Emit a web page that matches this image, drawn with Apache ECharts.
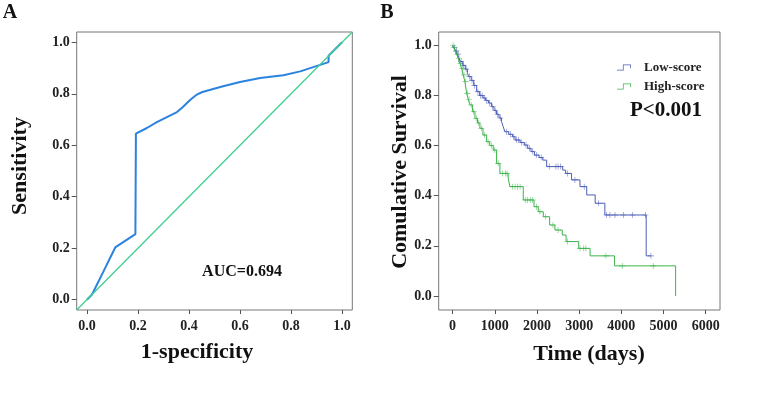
<!DOCTYPE html>
<html>
<head>
<meta charset="utf-8">
<script src="https://cdn.jsdelivr.net/npm/echarts@6/dist/echarts.min.js"></script>
<style>
  html, body { margin: 0; padding: 0; background: #fff; }
  #chart { width: 771px; height: 412px; }
</style>
</head>
<body>
<div id="chart"></div>
<script>
  // ---- panel A: ROC curve ----
  var rocFpr = [0, 0.02, 0.039, 0.065, 0.111, 0.19, 0.192, 0.235, 0.274, 0.353, 0.375, 0.392, 0.41, 0.431, 0.45, 0.47, 0.53, 0.6, 0.679, 0.77, 0.836, 0.947, 0.947, 1.0];
  var rocTpr = [0, 0.02, 0.058, 0.11, 0.203, 0.255, 0.645, 0.667, 0.69, 0.729, 0.748, 0.764, 0.781, 0.797, 0.806, 0.812, 0.828, 0.846, 0.861, 0.872, 0.887, 0.923, 0.948, 1.0];
  var refLine = [-0.04, 1.04];
  var rocTicks = [0, 0.2, 0.4, 0.6, 0.8, 1.0];
  var aucText = 'AUC=0.694';

  // ---- panel B: Kaplan-Meier ----
  var groups = ['Low-score', 'High-score'];
  var lowT = [0, 30, 70, 110, 150, 180, 240, 300, 350, 380, 440, 500, 570, 640, 720, 780, 850, 920, 980, 1040, 1100, 1160, 1200, 1240, 1330, 1420, 1480, 1600, 1700, 1780, 1860, 1940, 2050, 2140, 2230, 2610, 2680, 2820, 3020, 3180, 3380, 3610, 4590, 4703];
  var lowS = [1.0, 0.99, 0.98, 0.965, 0.95, 0.935, 0.92, 0.905, 0.89, 0.875, 0.86, 0.84, 0.815, 0.8, 0.79, 0.78, 0.77, 0.755, 0.74, 0.725, 0.71, 0.695, 0.675, 0.655, 0.645, 0.635, 0.622, 0.612, 0.602, 0.589, 0.576, 0.562, 0.552, 0.542, 0.516, 0.502, 0.489, 0.463, 0.436, 0.403, 0.37, 0.323, 0.16, 0.16];
  var lowCensor = [40, 90, 130, 200, 260, 320, 400, 460, 520, 600, 660, 700, 750, 810, 870, 950, 1010, 1070, 1130, 1280, 1370, 1450, 1520, 1560, 1640, 1740, 1820, 1900, 1990, 2100, 2290, 2450, 2500, 2560, 2720, 2900, 3120, 3460, 3650, 3730, 3850, 4050, 4260, 4570, 4703];
  var highT = [0, 30, 60, 100, 133, 170, 213, 250, 292, 332, 370, 410, 470, 529, 590, 647, 720, 806, 880, 963, 1043, 1121, 1318, 1359, 1675, 1930, 2030, 2150, 2300, 2426, 2600, 2690, 2990, 3260, 3840, 5288];
  var highS = [1.0, 0.99, 0.975, 0.962, 0.948, 0.928, 0.908, 0.882, 0.855, 0.808, 0.785, 0.762, 0.735, 0.709, 0.69, 0.669, 0.642, 0.615, 0.6, 0.582, 0.529, 0.489, 0.469, 0.436, 0.383, 0.356, 0.336, 0.316, 0.283, 0.263, 0.243, 0.217, 0.19, 0.16, 0.12, 0];
  var highCensor = [10, 45, 80, 115, 150, 190, 230, 270, 310, 350, 390, 440, 500, 560, 620, 680, 760, 840, 920, 1000, 1080, 1180, 1250, 1290, 1420, 1480, 1540, 1600, 1720, 1780, 1840, 1900, 1990, 2070, 2200, 2380, 2500, 2720, 3020, 3110, 3160, 3636, 4022, 4757];
  var timeTicks = [0, 1000, 2000, 3000, 4000, 5000, 6000];
  var survTicks = [0, 0.2, 0.4, 0.6, 0.8, 1.0];
  var pText = 'P<0.001';

  var serif = '"Liberation Serif", "Times New Roman", serif';
  var lowColor = '#4b5db8';
  var highColor = '#3cb44b';
  var plus = 'path://M4.5,0h1v4.5h4.5v1h-4.5v4.5h-1v-4.5h-4.5v-1h4.5z';
  var stepIcon = 'path://M0,7h8V0h11v5h-1V1h-9v7h-9z';

  function zip(a, b) {
    var out = [];
    for (var i = 0; i < a.length; i++) out.push([a[i], b[i]]);
    return out;
  }
  // survival value of a step curve at time t
  function survAt(ts, ss, t) {
    var s = ss[0];
    for (var i = 0; i < ts.length; i++) { if (ts[i] <= t) s = ss[i]; }
    return s;
  }
  function censorPts(ts, ss, cs) {
    return cs.map(function (t) { return [t, survAt(ts, ss, t)]; });
  }

  var labelStyle = { fontFamily: serif, fontWeight: 'bold', fontSize: 14, color: '#222' };
  function axis(grid, min, max, ticks, fmt, isY) {
    return {
      type: 'value', gridIndex: grid, min: min, max: max,
      splitLine: { show: false },
      axisLine: { show: false, onZero: false },
      axisTick: { show: true, inside: false, length: isY ? 5 : 4, customValues: ticks, lineStyle: { color: '#555' } },
      axisLabel: Object.assign({ customValues: ticks, margin: isY ? 7 : 9, formatter: fmt }, labelStyle)
    };
  }
  function oneDec(v) { return v.toFixed(1); }
  function intFmt(v) { return String(Math.round(v)); }

  function txt(x, y, text, size, rot) {
    return {
      type: 'text', x: x, y: y, rotation: rot || 0,
      style: {
        text: text, font: 'bold ' + size + 'px ' + serif, fill: '#111',
        align: 'center', verticalAlign: 'middle', textAlign: 'center', textVerticalAlign: 'middle'
      }
    };
  }

  var myChart = echarts.init(document.getElementById('chart'));
  var option = {
    animation: false,
    backgroundColor: '#fff',
    grid: [
      { left: 76.7, top: 32, width: 275.6, height: 278, show: true, borderColor: '#777', borderWidth: 1 },
      { left: 438.7, top: 32, width: 281.3, height: 278, show: true, borderColor: '#777', borderWidth: 1 }
    ],
    xAxis: [
      axis(0, -0.04, 1.04, rocTicks, oneDec, false),
      axis(1, -330, 6340, timeTicks, intFmt, false)
    ],
    yAxis: [
      axis(0, -0.04, 1.04, rocTicks, oneDec, true),
      axis(1, -0.056, 1.053, survTicks, oneDec, true)
    ],
    legend: {
      data: groups, orient: 'vertical', left: 612, top: 56,
      itemWidth: 14, itemHeight: 6, itemGap: 6, icon: stepIcon,
      textStyle: { fontFamily: serif, fontWeight: 'bold', fontSize: 13, color: '#222', padding: [0, 0, 0, 8] }
    },
    graphic: [
      txt(10, 13, 'A', 20),
      txt(387, 13, 'B', 20),
      txt(20, 166, 'Sensitivity', 22, Math.PI / 2),
      txt(197, 352, '1-specificity', 22),
      txt(242, 272, aucText, 16),
      txt(400, 172, 'Comulative Survival', 22, Math.PI / 2),
      txt(589, 354, 'Time (days)', 22),
      txt(666, 111, pText, 21)
    ],
    series: [
      {
        type: 'line', xAxisIndex: 0, yAxisIndex: 0, showSymbol: false, silent: true,
        data: zip(rocFpr, rocTpr), lineStyle: { color: '#2b83e0', width: 2 }, z: 2
      },
      {
        type: 'line', xAxisIndex: 0, yAxisIndex: 0, showSymbol: false, silent: true,
        data: zip(refLine, refLine), lineStyle: { color: '#3fd08e', width: 1.3 }, z: 3
      },
      {
        name: groups[0], type: 'line', step: 'end', xAxisIndex: 1, yAxisIndex: 1, showSymbol: false,
        data: zip(lowT, lowS), color: lowColor, lineStyle: { color: lowColor, width: 1 }
      },
      {
        name: groups[0], type: 'scatter', xAxisIndex: 1, yAxisIndex: 1, symbol: plus, symbolSize: 6,
        data: censorPts(lowT, lowS, lowCensor), itemStyle: { color: lowColor }
      },
      {
        name: groups[1], type: 'line', step: 'end', xAxisIndex: 1, yAxisIndex: 1, showSymbol: false,
        data: zip(highT, highS), color: highColor, lineStyle: { color: highColor, width: 1 }
      },
      {
        name: groups[1], type: 'scatter', xAxisIndex: 1, yAxisIndex: 1, symbol: plus, symbolSize: 6,
        data: censorPts(highT, highS, highCensor), itemStyle: { color: highColor }
      }
    ]
  };
  myChart.setOption(option);
</script>
</body>
</html>
